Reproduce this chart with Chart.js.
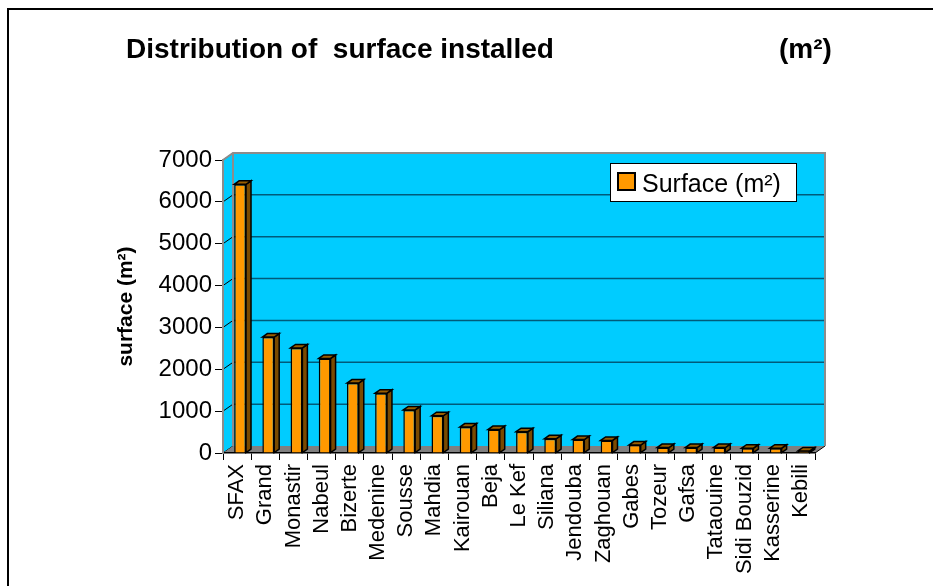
<!DOCTYPE html>
<html>
<head>
<meta charset="utf-8">
<script src="https://cdn.jsdelivr.net/npm/chart.js@4.4.1/dist/chart.umd.min.js"></script>
<style>
  html, body { margin: 0; padding: 0; background: #ffffff; }
  #wrap { width: 933px; height: 586px; position: relative; }
</style>
</head>
<body>
<div id="wrap"><canvas id="c" width="933" height="586"></canvas></div>
<script>
// ---- data ----
const categories = ['SFAX','Grand','Monastir','Nabeul','Bizerte','Medenine','Sousse','Mahdia','Kairouan','Beja','Le Kef','Siliana','Jendouba','Zaghouan','Gabes','Tozeur','Gafsa','Tataouine','Sidi Bouzid','Kasserine','Kebili'];
const surfaceValues = [6420, 2770, 2510, 2260, 1670, 1430, 1030, 890, 620, 560, 510, 340, 320, 300, 190, 130, 130, 130, 115, 115, 50];
const seriesName = 'Surface (m²)';
const titleMain = 'Distribution of  surface installed';
const titleUnit = '(m²)';
const yAxisTitle = 'surface (m²)';
const yMin = 0, yMax = 7000, yStep = 1000;

const FONT = '"Liberation Sans", Arial, Helvetica, sans-serif';
const DX = 10, DY = -7;          // depth of the walls
const BDX = 5, BDY = -3.5;       // depth of the bars
const BAR_SHIFT = 3;

const framePlugin = {
  id: 'frame3d',
  beforeDraw(chart) {
    const ctx = chart.ctx;
    const ca = chart.chartArea;
    const y = chart.scales.y;
    ctx.save();
    // outer frame
    ctx.strokeStyle = '#000';
    ctx.lineWidth = 2;
    ctx.beginPath();
    ctx.moveTo(8, 586); ctx.lineTo(8, 9); ctx.lineTo(933, 9);
    ctx.stroke();

    // titles
    ctx.fillStyle = '#000';
    ctx.font = 'bold 28px ' + FONT;
    ctx.textBaseline = 'alphabetic';
    ctx.textAlign = 'left';
    ctx.fillText(titleMain, 126, 58);
    ctx.fillText(titleUnit, 779, 58);

    const L = ca.left, R = ca.right, T = ca.top, B = ca.bottom;
    // back wall
    ctx.fillStyle = '#00CCFF';
    ctx.fillRect(L + DX, T + DY, R - L, B - T);
    // left wall
    ctx.beginPath();
    ctx.moveTo(L, B); ctx.lineTo(L, T); ctx.lineTo(L + DX, T + DY); ctx.lineTo(L + DX, B + DY); ctx.closePath();
    ctx.fill();
    // gridlines
    for (let v = yMin; v <= yMax; v += yStep) {
      const py = y.getPixelForValue(v);
      if (v > yMin && v < yMax) {
        ctx.strokeStyle = '#005a7a';
        ctx.lineWidth = 1.5;
        ctx.beginPath();
        ctx.moveTo(L + DX, py + DY); ctx.lineTo(R + DX, py + DY);
        ctx.stroke();
      }
      ctx.strokeStyle = '#000';
      ctx.lineWidth = 1;
      ctx.beginPath();
      ctx.moveTo(L, py); ctx.lineTo(L + DX, py + DY);
      ctx.stroke();
    }
    // floor
    ctx.fillStyle = '#808080';
    ctx.beginPath();
    ctx.moveTo(L, B); ctx.lineTo(L + DX, B + DY); ctx.lineTo(R + DX, B + DY); ctx.lineTo(R, B); ctx.closePath();
    ctx.fill();
    ctx.strokeStyle = '#000';
    ctx.lineWidth = 1;
    ctx.beginPath();
    ctx.moveTo(R, B); ctx.lineTo(R + DX, B + DY);
    ctx.stroke();
    // wall edges
    ctx.strokeStyle = '#8c8c8c';
    ctx.lineWidth = 2;
    ctx.beginPath();
    ctx.moveTo(L, T); ctx.lineTo(L + DX, T + DY); ctx.lineTo(R + DX, T + DY); ctx.lineTo(R + DX, B + DY);
    ctx.moveTo(L + DX, T + DY); ctx.lineTo(L + DX, B + DY);
    ctx.stroke();
    ctx.restore();
  },
  beforeDatasetsDraw(chart) {
    chart.ctx.save();
    chart.ctx.translate(BAR_SHIFT, 0);
  },
  afterDatasetsDraw(chart) {
    const ctx = chart.ctx;
    const meta = chart.getDatasetMeta(0);
    meta.data.forEach(bar => {
      const p = bar.getProps(['x', 'y', 'base', 'width'], true);
      const l = p.x - p.width / 2, r = p.x + p.width / 2, t = p.y, b = p.base;
      ctx.lineWidth = 1.5;
      ctx.strokeStyle = '#000';
      // side face
      ctx.fillStyle = '#7a4a00';
      ctx.beginPath();
      ctx.moveTo(r, t); ctx.lineTo(r + BDX, t + BDY); ctx.lineTo(r + BDX, b + BDY); ctx.lineTo(r, b); ctx.closePath();
      ctx.fill(); ctx.stroke();
      // top face
      ctx.fillStyle = '#9a5e00';
      ctx.beginPath();
      ctx.moveTo(l, t); ctx.lineTo(l + BDX, t + BDY); ctx.lineTo(r + BDX, t + BDY); ctx.lineTo(r, t); ctx.closePath();
      ctx.fill(); ctx.stroke();
    });
    ctx.restore();

    // legend
    ctx.save();
    ctx.fillStyle = '#fff';
    ctx.fillRect(610, 163, 186, 38);
    ctx.strokeStyle = '#000';
    ctx.lineWidth = 1;
    ctx.strokeRect(610.5, 163.5, 186, 38);
    ctx.fillStyle = '#FF9900';
    ctx.fillRect(618, 173, 17, 17);
    ctx.lineWidth = 2;
    ctx.strokeRect(618, 173, 17, 17);
    ctx.fillStyle = '#000';
    ctx.font = '25px ' + FONT;
    ctx.textAlign = 'left';
    ctx.textBaseline = 'alphabetic';
    ctx.fillText(chart.data.datasets[0].label, 642, 192);
    ctx.restore();
  }
};

new Chart(document.getElementById('c'), {
  type: 'bar',
  data: {
    labels: categories,
    datasets: [{
      label: seriesName,
      data: surfaceValues,
      backgroundColor: '#FF9900',
      borderColor: '#000',
      borderWidth: 1.5,
      barPercentage: 0.42,
      categoryPercentage: 1.0
    }]
  },
  options: {
    responsive: false,
    animation: false,
    devicePixelRatio: 1,
    layout: { padding: { top: 160, left: 0, right: 118, bottom: 0 } },
    plugins: {
      legend: { display: false },
      title: { display: false },
      tooltip: { enabled: false }
    },
    scales: {
      x: {
        offset: true,
        grid: { display: true, drawOnChartArea: false, drawTicks: true, tickLength: 7, color: '#000', offset: true },
        border: { display: true, color: '#000', width: 1.5 },
        ticks: {
          autoSkip: false, maxRotation: 90, minRotation: 90, padding: 4,
          color: '#000', font: { family: FONT, size: 22 }
        },
        afterFit(scale) { scale.height = 133; }
      },
      y: {
        min: yMin, max: yMax,
        grid: { display: true, drawOnChartArea: false, drawTicks: true, tickLength: 8, color: '#000' },
        border: { display: true, color: '#8c8c8c', width: 2 },
        ticks: {
          stepSize: yStep, padding: 3, color: '#000',
          font: { family: FONT, size: 24 },
          callback: (v) => String(v)
        },
        title: {
          display: true, text: yAxisTitle, color: '#000',
          font: { family: FONT, size: 21, weight: 'bold' },
          padding: { top: 114, bottom: 0 }
        },
        afterFit(scale) { scale.width = 223; }
      }
    }
  },
  plugins: [framePlugin]
});
</script>
</body>
</html>
